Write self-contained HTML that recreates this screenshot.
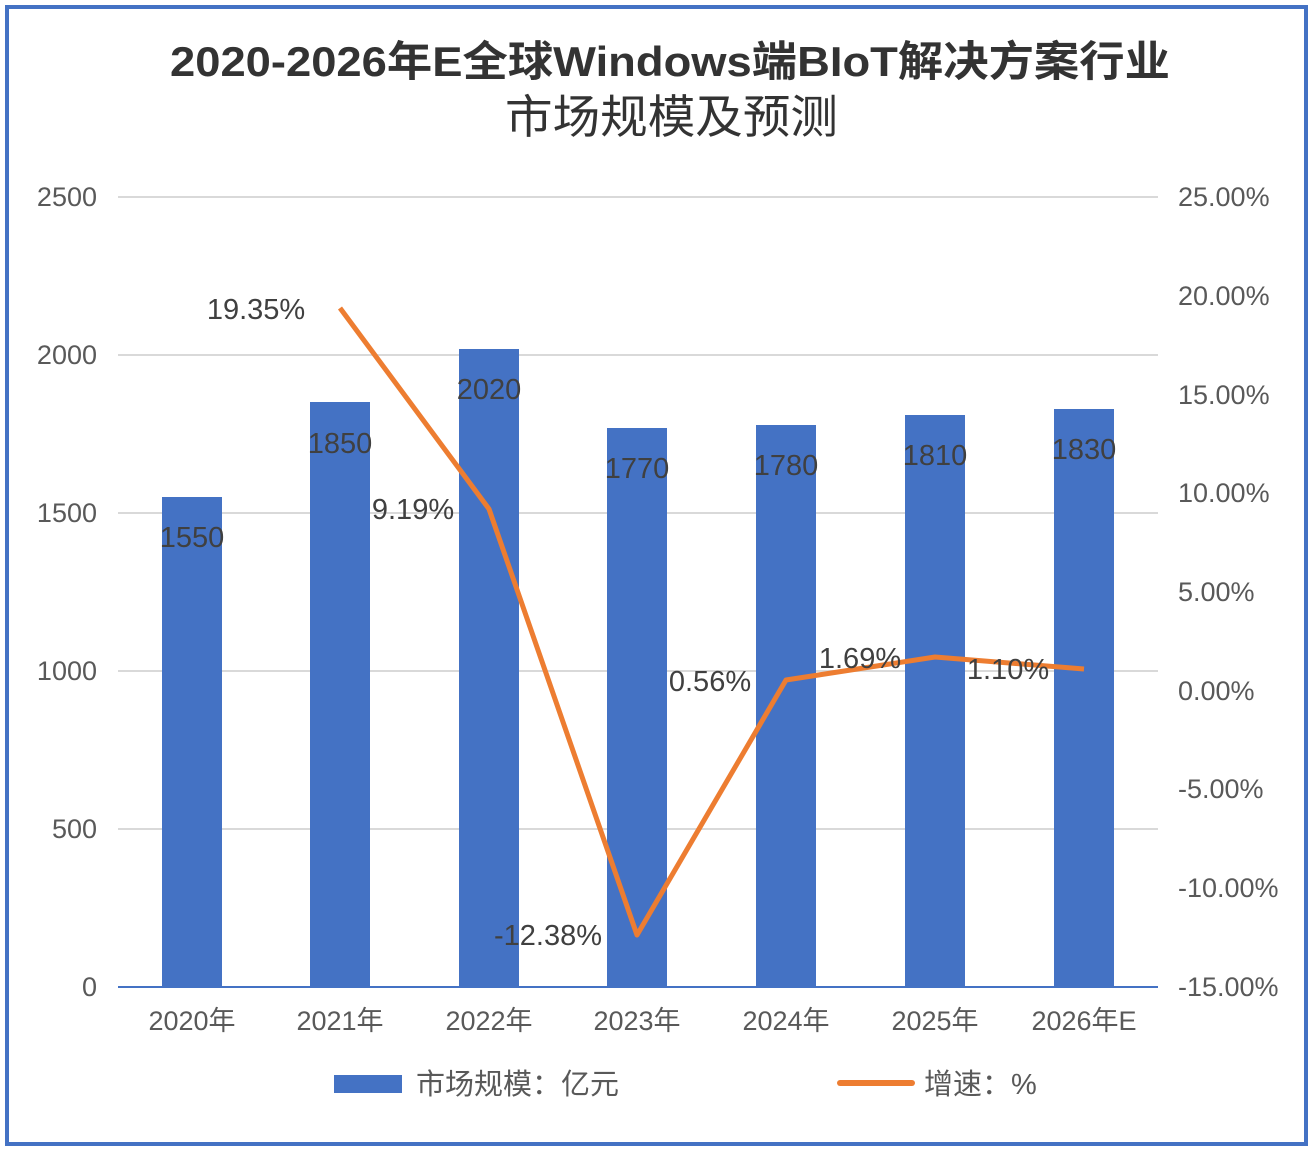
<!DOCTYPE html>
<html><head><meta charset="utf-8"><style>
body{margin:0;background:#fff;}
svg{display:block;font-family:"Liberation Sans","Noto Sans CJK SC",sans-serif;}
</style></head><body>
<svg width="1314" height="1154" viewBox="0 0 1314 1154" xmlns="http://www.w3.org/2000/svg">
<rect x="0" y="0" width="1314" height="1154" fill="#fff"/>
<rect x="7" y="7" width="1299" height="1137" fill="#fff" stroke="#4472c4" stroke-width="4"/>
<text x="170" y="76" font-size="42" font-weight="bold" fill="#333" textLength="1000" lengthAdjust="spacingAndGlyphs">2020-2026年E全球Windows端BIoT解决方案行业</text>
<text x="505" y="133" font-size="46" fill="#333" textLength="333" lengthAdjust="spacingAndGlyphs">市场规模及预测</text>
<g stroke="#d9d9d9" stroke-width="2">
<line x1="118" y1="197" x2="1158" y2="197"/><line x1="118" y1="355" x2="1158" y2="355"/>
<line x1="118" y1="513" x2="1158" y2="513"/><line x1="118" y1="671" x2="1158" y2="671"/>
<line x1="118" y1="829" x2="1158" y2="829"/>
</g>
<line x1="118" y1="987" x2="1158" y2="987" stroke="#4472c4" stroke-width="2"/>
<g font-size="27" fill="#595959" text-anchor="end">
<text x="97" y="206">2500</text><text x="97" y="364">2000</text><text x="97" y="522">1500</text>
<text x="97" y="680">1000</text><text x="97" y="838">500</text><text x="97" y="996">0</text>
</g>
<g font-size="27" fill="#595959">
<text x="1178" y="206">25.00%</text><text x="1178" y="305">20.00%</text><text x="1178" y="404">15.00%</text>
<text x="1178" y="502">10.00%</text><text x="1178" y="601">5.00%</text><text x="1178" y="700">0.00%</text>
<text x="1178" y="798">-5.00%</text><text x="1178" y="897">-10.00%</text><text x="1178" y="996">-15.00%</text>
</g>
<g fill="#4472c4">
<rect x="162" y="497" width="60" height="490"/>
<rect x="310" y="402" width="60" height="585"/>
<rect x="459" y="349" width="60" height="638"/>
<rect x="607" y="428" width="60" height="559"/>
<rect x="756" y="425" width="60" height="562"/>
<rect x="905" y="415" width="60" height="572"/>
<rect x="1054" y="409" width="60" height="578"/>
</g>
<g font-size="27" fill="#595959" text-anchor="middle">
<text x="192" y="1030">2020年</text><text x="340" y="1030">2021年</text><text x="489" y="1030">2022年</text>
<text x="637" y="1030">2023年</text><text x="786" y="1030">2024年</text><text x="935" y="1030">2025年</text>
<text x="1084" y="1030">2026年E</text>
</g>
<polyline points="340,308 489,509 637,935 786,680 935,657 1084,669" fill="none" stroke="#ed7d31" stroke-width="5" stroke-linejoin="round"/>
<g font-size="29" fill="#404040" text-anchor="middle">
<text x="192" y="547">1550</text><text x="340" y="453">1850</text><text x="489" y="399">2020</text>
<text x="637" y="478">1770</text><text x="786" y="475">1780</text><text x="935" y="465">1810</text>
<text x="1084" y="459">1830</text>
<text x="256" y="319">19.35%</text><text x="413" y="519">9.19%</text><text x="548" y="945">-12.38%</text>
<text x="710" y="691">0.56%</text><text x="860" y="668">1.69%</text><text x="1008" y="679">1.10%</text>
</g>
<rect x="334" y="1075" width="68" height="18" fill="#4472c4"/>
<text x="416" y="1094" font-size="29" fill="#595959">市场规模：亿元</text>
<line x1="840" y1="1083" x2="912" y2="1083" stroke="#ed7d31" stroke-width="6" stroke-linecap="round"/>
<text x="924" y="1094" font-size="29" fill="#595959">增速：%</text>
</svg>
</body></html>
